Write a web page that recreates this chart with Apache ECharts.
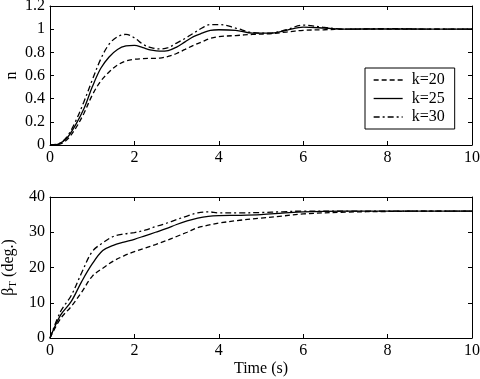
<!DOCTYPE html>
<html>
<head>
<meta charset="utf-8">
<script src="https://cdn.jsdelivr.net/npm/echarts@6/dist/echarts.min.js"></script>
<style>
html,body{margin:0;padding:0;background:#fff;}
#main{width:480px;height:379px;}
</style>
</head>
<body>
<div id="main"></div>
<script>
// time points
var tTop = [0, 0.2, 0.4, 0.6, 0.8, 1.0, 1.2, 1.4, 1.6, 1.8, 2.0, 2.2, 2.4, 2.6, 2.8, 3.0, 3.2, 3.4, 3.6, 3.8, 4.0, 4.4, 4.8, 5.2, 5.6, 6.0, 6.5, 7, 8, 9, 10];
var nK20 = [0, 0.005, 0.045, 0.14, 0.27, 0.43, 0.55, 0.63, 0.69, 0.725, 0.74, 0.745, 0.748, 0.75, 0.765, 0.79, 0.825, 0.86, 0.89, 0.92, 0.935, 0.945, 0.955, 0.96, 0.975, 0.99, 0.995, 1.0, 1.0, 1.0, 1.0];
var nK25 = [0, 0.008, 0.06, 0.17, 0.31, 0.5, 0.66, 0.76, 0.825, 0.855, 0.86, 0.84, 0.82, 0.81, 0.815, 0.845, 0.89, 0.935, 0.965, 0.99, 0.995, 0.99, 0.965, 0.965, 0.99, 1.017, 1.01, 1.0, 1.003, 1.0, 1.0];
var nK30 = [0, 0.01, 0.07, 0.2, 0.37, 0.56, 0.74, 0.87, 0.935, 0.955, 0.925, 0.87, 0.84, 0.83, 0.84, 0.88, 0.92, 0.965, 1.01, 1.04, 1.04, 1.01, 0.97, 0.965, 0.995, 1.035, 1.015, 1.0, 1.005, 1.0, 1.0];

var tBot = [0, 0.25, 0.5, 0.75, 1.0, 1.25, 1.5, 1.75, 2.0, 2.25, 2.5, 2.75, 3.0, 3.25, 3.5, 3.75, 4.0, 4.5, 5, 5.5, 6, 7, 8, 9, 10];
var bK20 = [0, 5.5, 8.9, 13, 17.5, 19.8, 21.8, 23.3, 24.5, 25.5, 26.5, 27.6, 28.8, 30, 31.3, 32, 32.6, 33.4, 34, 34.6, 35.2, 35.7, 35.9, 36, 36];
var bK25 = [0, 6.5, 10.3, 16, 21, 24.8, 26.3, 27.2, 28, 29, 30, 31, 32.2, 33.2, 34, 34.5, 34.7, 34.8, 35, 35.4, 35.8, 36, 36, 36, 36];
var bK30 = [0, 7.5, 12, 18.5, 24.5, 27, 28.8, 29.5, 29.9, 30.6, 31.6, 32.5, 33.6, 34.6, 35.5, 35.8, 35.5, 35.5, 35.6, 35.8, 36, 36, 36, 36, 36];

var names = ['k=20', 'k=25', 'k=30'];
var dashes = [[5, 3], 'solid', [6, 3, 2, 3]];

function pairs(t, v){
    var out = [];
    for (var i = 0; i < t.length; i++) out.push([t[i], v[i]]);
    return out;
}

var font = 'Liberation Serif';
var black = '#000';
var fs = 16;

function xAx(grid, pos, label, name){
    return {
        type: 'value', gridIndex: grid, position: pos, min: 0, max: 10, interval: 2,
        name: name || '', nameLocation: 'middle', nameGap: 23,
        nameTextStyle: {fontFamily: font, fontSize: fs, color: black},
        axisLine: {show: true, onZero: false, lineStyle: {color: black, width: 1}},
        axisTick: {show: true, inside: true, length: 4, lineStyle: {color: black}},
        axisLabel: {show: label, fontFamily: font, fontSize: fs, color: black, margin: 5},
        splitLine: {show: false}
    };
}
function yAx(grid, pos, label, min, max, step, name, gap){
    return {
        type: 'value', gridIndex: grid, position: pos, min: min, max: max, interval: step,
        name: name || '', nameLocation: 'middle', nameGap: gap || 30, nameRotate: 90,
        nameMoveOverlap: false,
        nameTextStyle: {fontFamily: font, fontSize: fs, color: black,
            rich: {
                a: {fontFamily: font, fontSize: fs, color: black},
                s: {fontFamily: font, fontSize: 11, color: black, padding: [9, 0, 0, 0]}
            }},
        axisLine: {show: true, onZero: false, lineStyle: {color: black, width: 1}},
        axisTick: {show: true, inside: true, length: 4, lineStyle: {color: black}},
        axisLabel: {show: label, fontFamily: font, fontSize: fs, color: black, margin: 5},
        splitLine: {show: false}
    };
}

var series = [];
var topData = [nK20, nK25, nK30];
var botData = [bK20, bK25, bK30];
for (var i = 0; i < 3; i++) {
    series.push({
        name: names[i], type: 'line', xAxisIndex: 0, yAxisIndex: 0,
        data: pairs(tTop, topData[i]), smooth: 0.35, showSymbol: false, symbol: 'none',
        lineStyle: {color: black, width: 1.3, type: dashes[i]}, itemStyle: {color: black}
    });
    series.push({
        name: names[i], type: 'line', xAxisIndex: 2, yAxisIndex: 2,
        data: pairs(tBot, botData[i]), smooth: 0.35, showSymbol: false, symbol: 'none',
        lineStyle: {color: black, width: 1.3, type: dashes[i]}, itemStyle: {color: black}
    });
}

var myChart = echarts.init(document.getElementById('main'));
var option = {
    backgroundColor: '#fff',
    animation: false,
    grid: [
        {left: 50, right: 8, top: 6, height: 139, containLabel: false, outerBoundsMode: 'none'},
        {left: 50, right: 8, top: 197, height: 141, containLabel: false, outerBoundsMode: 'none'}
    ],
    xAxis: [
        xAx(0, 'bottom', true),
        xAx(0, 'top', false),
        xAx(1, 'bottom', true, 'Time (s)'),
        xAx(1, 'top', false)
    ],
    yAxis: [
        yAx(0, 'left', true, 0, 1.2, 0.2, 'n', 30),
        yAx(0, 'right', false, 0, 1.2, 0.2),
        yAx(1, 'left', true, 0, 40, 10, '{a|β}{s|T}{a| (deg.)}', 31),
        yAx(1, 'right', false, 0, 40, 10)
    ],
    legend: {
        data: names, orient: 'vertical', left: 365, top: 68,
        itemWidth: 29, itemHeight: 16, itemGap: 2.5,
        padding: [4, 10, 4, 8],
        borderColor: black, borderWidth: 1, backgroundColor: '#fff',
        itemStyle: {opacity: 0},
        lineStyle: {width: 1.3, opacity: 1},
        textStyle: {fontFamily: font, fontSize: fs, color: black, padding: [0, 0, 0, 4]}
    },
    series: series
};
myChart.setOption(option);
</script>
</body>
</html>
